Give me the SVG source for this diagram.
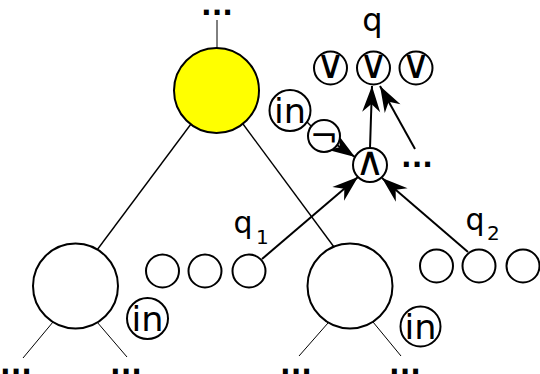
<svg xmlns="http://www.w3.org/2000/svg" width="540" height="374" viewBox="0 0 540 374">
  <style>
    .node { fill: #fff; stroke: #000; stroke-width: 2; }
    .root { fill: #ffff00; stroke: #000; stroke-width: 2; }
    .edge { stroke: #000; stroke-width: 1.4; fill: none; }
    .thin { stroke: #000; stroke-width: 1; fill: none; }
    .arr { stroke: #000; stroke-width: 2; fill: none; marker-end: url(#head); }
    .lbl { font-family: "DejaVu Sans", sans-serif; fill: #000; text-anchor: middle; }
    .in { font-size: 33px; }
    .q { font-size: 30px; }
    .sub { font-size: 20px; text-anchor: start; }
    .op { font-size: 40px; }
    .dots { font-family: "DejaVu Sans", sans-serif; font-size: 28px; font-weight: bold; fill: #000; text-anchor: middle; }
  </style>
  <defs>
    <marker id="head" viewBox="-27 -10 28 20" markerUnits="userSpaceOnUse" markerWidth="28" markerHeight="20" refX="0" refY="0" orient="auto">
      <path d="M0,0 L-26,-9 L-18,0 L-26,9 Z" fill="#000"/>
    </marker>
  </defs>

  <!-- connectors -->
  <g id="connectors">
    <line class="thin" x1="217" y1="20" x2="217" y2="48"/>
    <line class="edge" x1="191" y1="124" x2="97" y2="250"/>
    <line class="edge" x1="243" y1="124" x2="334" y2="247"/>
    <line class="thin" x1="53" y1="322" x2="23" y2="358"/>
    <line class="thin" x1="97" y1="322" x2="127" y2="357"/>
    <line class="thin" x1="328" y1="323" x2="299" y2="356"/>
    <line class="thin" x1="373" y1="322" x2="401" y2="356"/>
    <line class="edge" x1="307" y1="122" x2="312" y2="127"/>
    <line class="arr" x1="337" y1="145" x2="355" y2="157"/>
    <line class="arr" x1="370" y1="148" x2="372" y2="86"/>
    <line class="arr" x1="415" y1="149" x2="380" y2="86"/>
    <line class="arr" x1="262" y1="259" x2="358" y2="177"/>
    <line class="arr" x1="468" y1="252" x2="382" y2="178"/>
  </g>

  <!-- tree nodes -->
  <g id="root-node"><circle class="root" cx="216.5" cy="90.5" r="42.5"/></g>
  <g id="left-node"><circle class="node" cx="75.5" cy="286" r="42.5"/></g>
  <g id="right-node"><circle class="node" cx="350" cy="286" r="42.5"/></g>

  <!-- q1 row -->
  <g id="q1-a"><circle class="node" cx="162.5" cy="271" r="16.5"/></g>
  <g id="q1-b"><circle class="node" cx="205" cy="271" r="16.5"/></g>
  <g id="q1-c"><circle class="node" cx="249" cy="271" r="16.5"/></g>
  <!-- q2 row -->
  <g id="q2-a"><circle class="node" cx="436.5" cy="266" r="16.5"/></g>
  <g id="q2-b"><circle class="node" cx="479" cy="266" r="16.5"/></g>
  <g id="q2-c"><circle class="node" cx="523" cy="266" r="16.5"/></g>

  <!-- input markers -->
  <g id="in-left"><circle class="node" cx="147.5" cy="318.5" r="20.5"/><text class="lbl in" x="147.5" y="330.5" textLength="32" lengthAdjust="spacingAndGlyphs">in</text></g>
  <g id="in-right"><circle class="node" cx="420.5" cy="326.5" r="20"/><text class="lbl in" x="420.5" y="338.5" textLength="32" lengthAdjust="spacingAndGlyphs">in</text></g>
  <g id="in-top"><circle class="node" cx="290" cy="110.5" r="20.5"/><text class="lbl in" x="290" y="122.5" textLength="32" lengthAdjust="spacingAndGlyphs">in</text></g>

  <!-- gates -->
  <g id="not-gate"><circle class="node" cx="324" cy="136" r="16"/><text class="lbl" x="324" y="147" font-size="34">¬</text></g>
  <g id="and-gate"><circle class="node" cx="370" cy="165" r="17"/><text class="lbl op" x="370" y="175">∧</text></g>
  <g id="or-1"><circle class="node" cx="330.5" cy="68" r="16.5"/><text class="lbl op" x="330.5" y="78">∨</text></g>
  <g id="or-2"><circle class="node" cx="373.5" cy="68" r="16.5"/><text class="lbl op" x="373.5" y="78">∨</text></g>
  <g id="or-3"><circle class="node" cx="416" cy="68" r="16.5"/><text class="lbl op" x="416" y="78">∨</text></g>

  <!-- labels -->
  <text class="lbl" x="372.5" y="31" font-size="32">q</text>
  <text class="lbl q" x="243" y="233">q</text>
  <text class="lbl sub" x="256" y="244">1</text>
  <text class="lbl q" x="475" y="230">q</text>
  <text class="lbl sub" x="487" y="240">2</text>
  <text class="dots" x="217" y="15">...</text>
  <text class="dots" x="417" y="167">...</text>
  <text class="dots" x="16" y="374">...</text>
  <text class="dots" x="126" y="374">...</text>
  <text class="dots" x="296" y="374">...</text>
  <text class="dots" x="405" y="374">...</text>
</svg>
